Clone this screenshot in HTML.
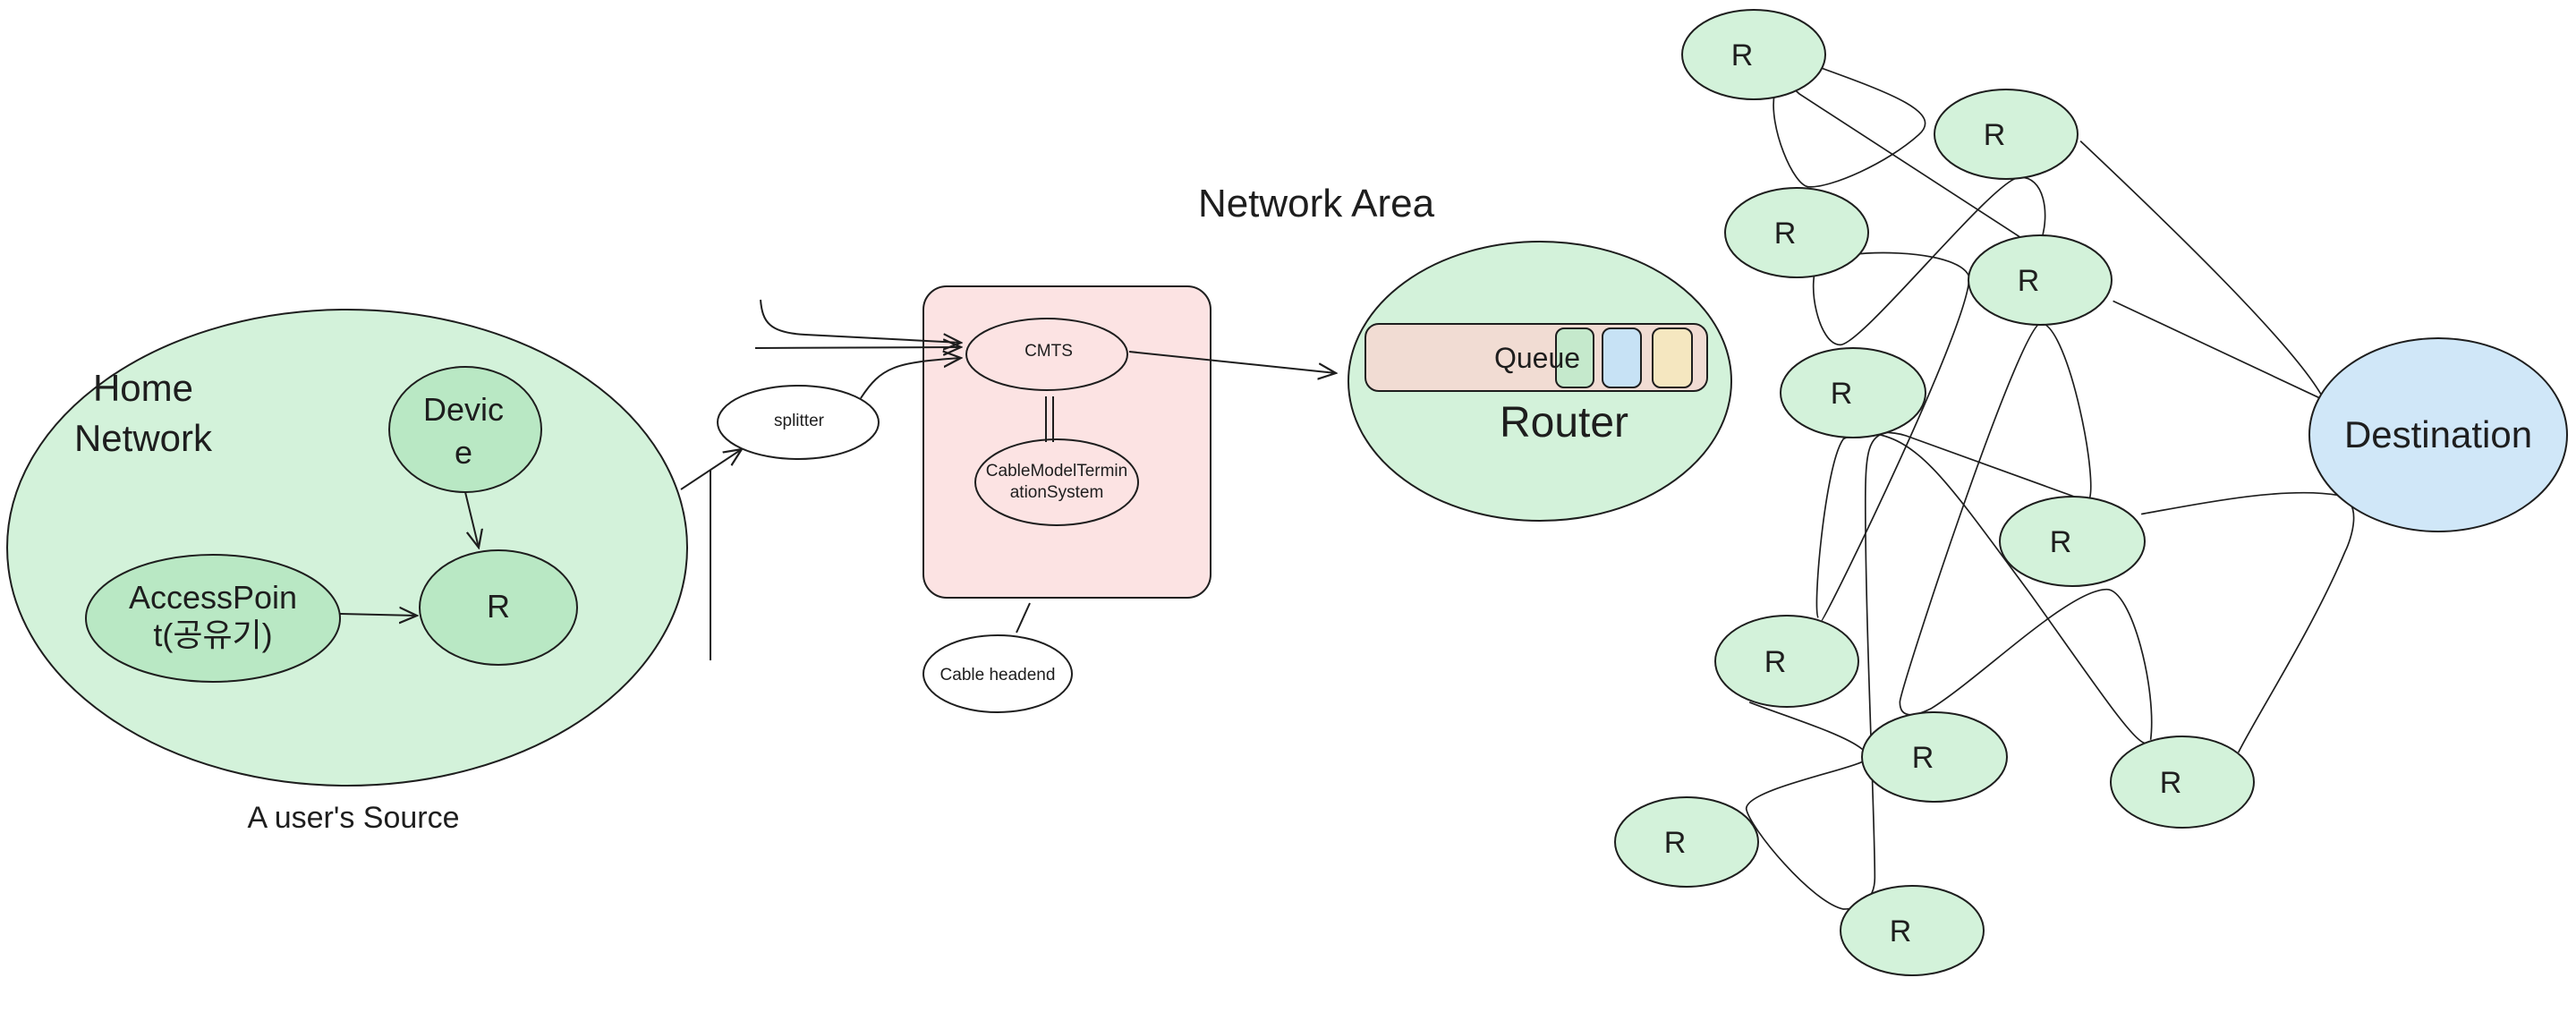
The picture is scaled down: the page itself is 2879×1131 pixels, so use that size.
<!DOCTYPE html>
<html><head><meta charset="utf-8"><style>
html,body{margin:0;padding:0;background:#fff;}
svg{display:block;}
text{font-family:"Liberation Sans","Noto Sans CJK KR",sans-serif;fill:#1e1e1e;text-anchor:middle;}
</style></head><body>
<svg width="2879" height="1131" viewBox="0 0 2879 1131" xmlns="http://www.w3.org/2000/svg">
<defs>
<marker id="ah" viewBox="0 0 20 20" refX="18" refY="10" markerWidth="22" markerHeight="22" markerUnits="userSpaceOnUse" orient="auto">
<path d="M0,2 L18,10 L0,18" fill="none" stroke="#1e1e1e" stroke-width="2"/>
</marker>
</defs>
<g stroke="#1e1e1e" stroke-width="2" fill="none">
<ellipse cx="388" cy="612" rx="380" ry="266" fill="#d3f2da"/>
<ellipse cx="520" cy="480" rx="85" ry="70" fill="#b9e8c4"/>
<ellipse cx="557" cy="679" rx="88" ry="64" fill="#b9e8c4"/>
<ellipse cx="238" cy="691" rx="142" ry="71" fill="#b9e8c4"/>
<path d="M380,686 L466,688" marker-end="url(#ah)"/>
<path d="M520,550 L535,612" marker-end="url(#ah)"/>
<path d="M761,547 L829,502" marker-end="url(#ah)"/>
<path d="M794,525 L794,738"/>
<ellipse cx="892" cy="472" rx="90" ry="41" fill="#fff"/>
<rect x="1032" y="320" width="321" height="348" rx="26" fill="#fce3e3"/>
<ellipse cx="1170" cy="396" rx="90" ry="40" fill="#fce3e3"/>
<ellipse cx="1181" cy="539" rx="91" ry="48" fill="#fce3e3"/>
<ellipse cx="1115" cy="753" rx="83" ry="43" fill="#fff"/>
<path d="M850,335 C852,360 860,372 900,374 L1074,383" marker-end="url(#ah)"/>
<path d="M844,389 L1074,388" marker-end="url(#ah)"/>
<path d="M962,445 C985,410 1000,405 1074,400" marker-end="url(#ah)"/>
<path d="M1169,443 L1169,494 M1177,443 L1177,494"/>
<path d="M1151,674 L1136,707"/>
<path d="M1262,393 L1493,417" marker-end="url(#ah)"/>
<ellipse cx="1721" cy="426" rx="214" ry="156" fill="#d3f2da"/>
<rect x="1526" y="362" width="382" height="75" rx="15" fill="#f1dcd3"/>
<rect x="1739" y="367" width="42" height="66" rx="9" fill="#c5e9cc"/>
<rect x="1791" y="367" width="43" height="66" rx="9" fill="#c7e2f5"/>
<rect x="1847" y="367" width="44" height="66" rx="9" fill="#f5e7c0"/>
<g transform="translate(1780,0) scale(0.7007)">
<g vector-effect="non-scaling-stroke" stroke-width="2.4">
<path d="M355,105 C480,150 560,180 520,215 C470,260 380,300 345,298 C320,298 280,200 290,150 C300,130 320,140 330,150 L700,390"/>
<path d="M715,385 C730,340 720,280 680,283 C640,285 430,550 395,550 C360,550 340,450 360,420 C400,395 580,395 600,440 C610,500 370,990 365,990"/>
<path d="M778,225 C900,340 1120,550 1165,635"/>
<path d="M830,480 L1160,635"/>
<path d="M715,515 C680,520 490,1100 490,1120 C490,1150 520,1140 540,1130 C620,1080 760,940 820,940 C860,940 900,1100 890,1180"/>
<path d="M715,515 C760,520 810,780 790,800 L500,695 C470,685 420,690 400,700 C370,740 350,980 360,985"/>
<path d="M440,690 C520,700 560,760 700,950 C800,1090 860,1180 880,1185"/>
<path d="M470,690 C440,695 435,720 435,800 C435,1000 450,1300 450,1400 C450,1440 420,1450 400,1450 C350,1440 250,1320 245,1290 C245,1260 400,1230 430,1215"/>
<path d="M250,1120 C300,1140 400,1170 430,1195"/>
<path d="M875,820 C960,805 1100,775 1190,790 C1230,800 1210,860 1200,880 C1150,1000 1060,1140 1030,1200"/>
</g>
</g>
<g fill="#d3f2da">
<ellipse cx="1960" cy="61" rx="80" ry="50"/>
<ellipse cx="2242" cy="150" rx="80" ry="50"/>
<ellipse cx="2008" cy="260" rx="80" ry="50"/>
<ellipse cx="2280" cy="313" rx="80" ry="50"/>
<ellipse cx="2071" cy="439" rx="81" ry="50"/>
<ellipse cx="2316" cy="605" rx="81" ry="50"/>
<ellipse cx="1997" cy="739" rx="80" ry="51"/>
<ellipse cx="2162" cy="846" rx="81" ry="50"/>
<ellipse cx="2439" cy="874" rx="80" ry="51"/>
<ellipse cx="1885" cy="941" rx="80" ry="50"/>
<ellipse cx="2137" cy="1040" rx="80" ry="50"/>
</g>
<ellipse cx="2725" cy="486" rx="144" ry="108" fill="#d0e7f8"/>
</g>
<g font-size="42">
<text x="160" y="448">Home</text>
<text x="160" y="504">Network</text>
</g>
<g font-size="36">
<text x="518" y="470">Devic</text>
<text x="518" y="518">e</text>
<text x="557" y="690">R</text>
<text x="238" y="680">AccessPoin</text>
<text x="238" y="722">t(공유기)</text>
</g>
<text x="395" y="925" font-size="34">A user's Source</text>
<g font-size="19">
<text x="893" y="476">splitter</text>
<text x="1172" y="398">CMTS</text>
<text x="1181" y="532">CableModelTermin</text>
<text x="1181" y="556">ationSystem</text>
<text x="1115" y="760">Cable headend</text>
</g>
<text x="1471" y="242" font-size="44">Network Area</text>
<text x="1718" y="411" font-size="32">Queue</text>
<text x="1748" y="488" font-size="48">Router</text>
<g font-size="34">
<text x="1947" y="73">R</text>
<text x="2229" y="162">R</text>
<text x="1995" y="272">R</text>
<text x="2267" y="325">R</text>
<text x="2058" y="451">R</text>
<text x="2303" y="617">R</text>
<text x="1984" y="751">R</text>
<text x="2149" y="858">R</text>
<text x="2426" y="886">R</text>
<text x="1872" y="953">R</text>
<text x="2124" y="1052">R</text>
</g>
<text x="2725" y="500" font-size="42">Destination</text>
</svg>
</body></html>
